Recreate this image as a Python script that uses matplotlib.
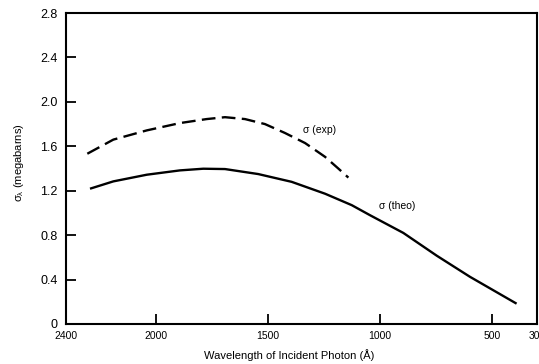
import numpy as np
import matplotlib.pyplot as plt

# values (wavelength in Angstrom, sigma in megabarns)
wl_theo = [2293, 2189, 2040, 1892, 1788, 1691, 1543, 1394, 1245, 1126, 1045,
           896, 747, 599, 391]
sig_theo = [1.218, 1.284, 1.344, 1.383, 1.398, 1.395, 1.35, 1.28, 1.173, 1.07,
            0.98, 0.82, 0.615, 0.425, 0.183]

wl_exp = [2305, 2189, 2040, 1892, 1773, 1691, 1602, 1513, 1424, 1334, 1245,
          1186, 1141]
sig_exp = [1.533, 1.66, 1.743, 1.809, 1.845, 1.862, 1.845, 1.80, 1.72, 1.629,
           1.505, 1.40, 1.318]

xticks = [2400, 2000, 1500, 1000, 500, 300]
yticks = [0, 0.4, 0.8, 1.2, 1.6, 2.0, 2.4, 2.8]
ytick_labels = ['0', '0.4', '0.8', '1.2', '1.6', '2.0', '2.4', '2.8']

plt.rcParams['font.family'] = ['Liberation Sans', 'DejaVu Sans']

fig = plt.figure(figsize=(5.39, 3.64), dpi=100)
ax = fig.add_axes([66/539, 40/364, 471/539, 311/364])

ax.plot(wl_theo, sig_theo, color='black', lw=1.7, solid_capstyle='butt',
        solid_joinstyle='round')
ax.plot(wl_exp, sig_exp, color='black', lw=1.7, dashes=(5.8, 2.7),
        dash_capstyle='butt')

ax.set_xlim(2400, 300)
ax.set_ylim(0, 2.8)

ax.set_xticks(xticks)
ax.set_xticklabels([str(t) for t in xticks], fontsize=7.5)
ax.set_yticks(yticks)
ax.set_yticklabels(ytick_labels, fontsize=9)

ax.tick_params(axis='both', direction='in', length=7, width=1.3, color='black')
ax.tick_params(axis='y', pad=6)
ax.tick_params(axis='x', pad=5)

for s in ax.spines.values():
    s.set_linewidth(1.5)

ax.text(1343, 1.75, 'σ (exp)', fontsize=7.5, ha='left', va='center')
ax.text(1005, 1.06, 'σ (theo)', fontsize=7.5, ha='left', va='center')

ax.set_xlabel('Wavelength of Incident Photon (Å)', fontsize=8)
ax.xaxis.set_label_coords(0.473, -0.08)
ax.set_ylabel(r'$\mathregular{\sigma_\lambda}$ (megabarns)', fontsize=8)
ax.yaxis.set_label_coords(-0.085, 0.52)

fig.savefig('out.png', dpi=100)
